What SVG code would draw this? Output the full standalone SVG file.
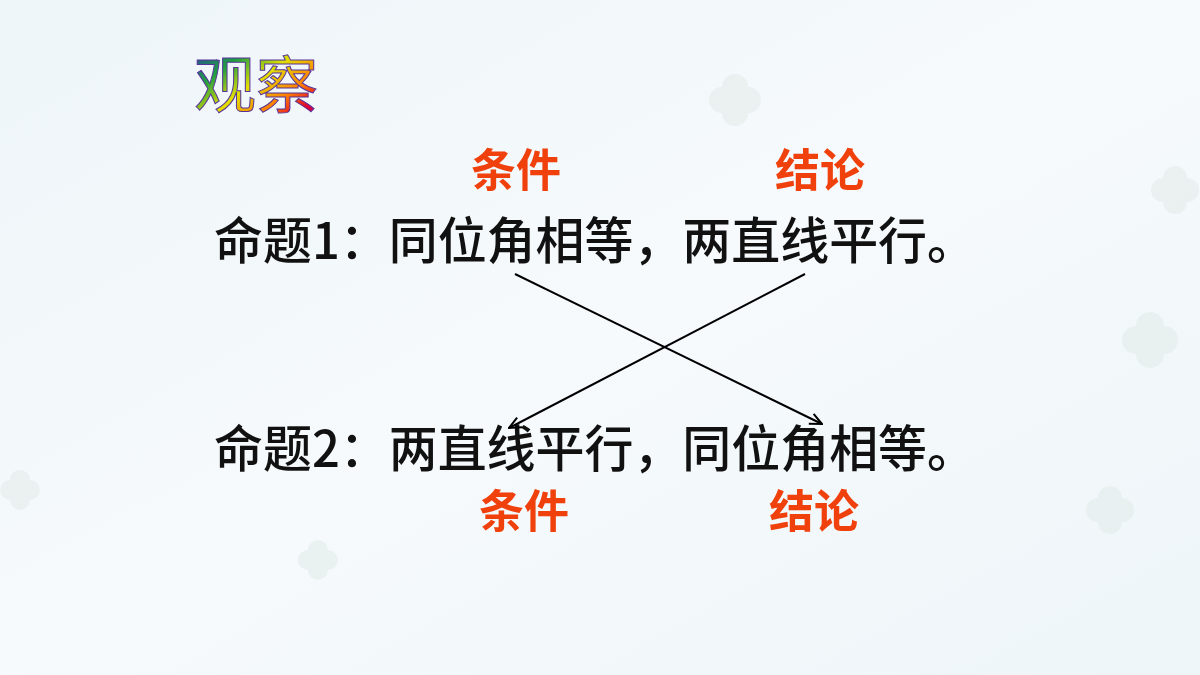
<svg xmlns="http://www.w3.org/2000/svg" width="1200" height="675" viewBox="0 0 1200 675">
<defs>
<linearGradient id="bg" x1="0" y1="0" x2="1" y2="1">
<stop offset="0" stop-color="#eef5f8"/>
<stop offset="0.5" stop-color="#f6fafc"/>
<stop offset="1" stop-color="#eef5f8"/>
</linearGradient>
<linearGradient id="rainbow" x1="0" y1="0" x2="1" y2="1">
<stop offset="0" stop-color="#3020c0"/>
<stop offset="0.3" stop-color="#20a040"/>
<stop offset="0.5" stop-color="#e0e000"/>
<stop offset="0.7" stop-color="#ff8000"/>
<stop offset="0.85" stop-color="#e00030"/>
<stop offset="1" stop-color="#a000c0"/>
</linearGradient>
<marker id="arr" viewBox="0 0 14 14" refX="13" refY="7" markerWidth="14" markerHeight="14" markerUnits="userSpaceOnUse" orient="auto">
<path d="M1,1.5 L13,7 L1,12.5" fill="none" stroke="#000" stroke-width="2"/>
</marker>
<g id="clover">
<circle cx="0" cy="-10" r="10"/><circle cx="10" cy="0" r="10"/><circle cx="0" cy="10" r="10"/><circle cx="-10" cy="0" r="10"/>
</g>
</defs>
<style>
.main{font-family:"Noto Sans CJK SC",sans-serif;font-size:50px;font-weight:500;fill:#111}
.red{font-family:"Noto Sans CJK SC",sans-serif;font-size:45px;font-weight:bold;fill:#f0400c}
</style>
<rect width="1200" height="675" fill="url(#bg)"/>
<g fill="#e3ecea" opacity="0.6">
<use href="#clover" transform="translate(735,100) scale(1.3)"/>
<use href="#clover" transform="translate(1150,340) scale(1.4)"/>
<use href="#clover" transform="translate(1175,190) scale(1.2)"/>
<use href="#clover" transform="translate(20,490) scale(1.0)"/>
<use href="#clover" transform="translate(318,560) scale(1.0)"/>
<use href="#clover" transform="translate(1110,510) scale(1.2)"/>
</g>
<g id="title">
<text x="194" y="108" font-family="'Noto Sans CJK SC',sans-serif" font-size="62" fill="url(#rainbow)" stroke="#553399" stroke-width="1">观察</text>
</g>
<g id="label-top-cond"><text class="red" x="471" y="187">条件</text></g>
<g id="label-top-concl"><text class="red" x="775" y="187">结论</text></g>
<g id="prop1"><text class="main" x="214" y="259" textLength="762" lengthAdjust="spacingAndGlyphs">命题1：同位角相等，两直线平行。</text></g>
<g id="prop2"><text class="main" x="214" y="467" textLength="762" lengthAdjust="spacingAndGlyphs">命题2：两直线平行，同位角相等。</text></g>
<g id="label-bot-cond"><text class="red" x="479" y="528">条件</text></g>
<g id="label-bot-concl"><text class="red" x="769" y="528">结论</text></g>
<g id="connectors" stroke="#000" stroke-width="2" fill="none">
<line x1="515" y1="274" x2="822" y2="424" marker-end="url(#arr)"/>
<line x1="805" y1="274" x2="509" y2="428" marker-end="url(#arr)"/>
</g>
</svg>
